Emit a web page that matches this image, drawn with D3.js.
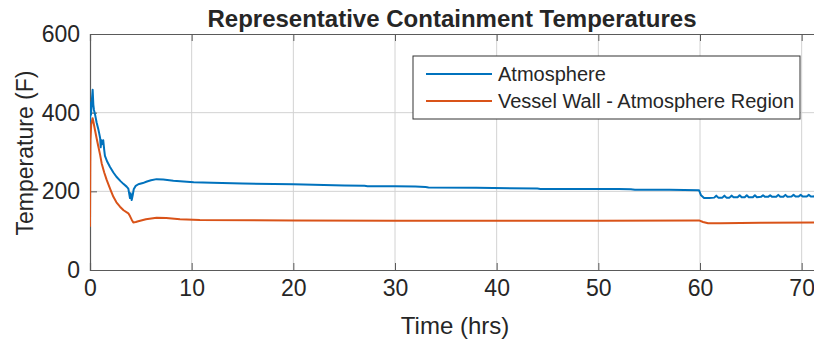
<!DOCTYPE html>
<html>
<head>
<meta charset="utf-8">
<script src="https://cdn.jsdelivr.net/npm/d3@7"></script>
<style>
  body { margin: 0; background: #fff; }
  text { font-family: "Liberation Sans", Arial, sans-serif; fill: #262626; }
</style>
</head>
<body>
<script>
// data
var xTicks = [0, 10, 20, 30, 40, 50, 60, 70];
var yTicks = [0, 200, 400, 600];
var seriesNames = ["Atmosphere", "Vessel Wall - Atmosphere Region"];

var atmTime = [0, 0.03, 0.1, 0.18, 0.26, 0.33, 0.39, 0.5, 0.65, 0.8, 0.9, 1.0, 1.05, 1.12, 1.2, 1.3, 1.4, 1.47, 1.7, 1.97, 2.3, 2.6, 3.0, 3.28, 3.6, 3.77, 3.85, 3.93, 4.0, 4.1, 4.2, 4.3, 4.5, 4.75, 5.2, 5.6, 6.0, 6.55, 7.2, 8.2, 9.2, 10.2, 12, 15, 20, 25, 27, 27.3, 30, 32, 33, 33.3, 38, 44, 44.3, 48, 52, 53.2, 53.6, 57, 59.9,
  60.1, 60.4, 60.9, 61.4, 61.6, 61.8, 62.2, 62.4, 62.6, 62.9, 63.1, 63.3, 63.7, 63.9, 64.1, 64.4, 64.6, 64.8, 65.2, 65.4, 65.6, 66.0, 66.2, 66.4, 66.7, 66.9, 67.1, 67.5, 67.7, 67.9, 68.2, 68.4, 68.6, 69.0, 69.2, 69.4, 69.7, 69.9, 70.1, 70.5, 70.7, 70.9, 71.2, 71.4, 71.6, 72];
var atmTemp = [265, 425, 395, 430, 458, 420, 407, 395, 375, 360, 348, 335, 312, 330, 320, 330, 305, 290, 275, 262, 248, 237, 226, 219, 212, 207, 195, 183, 195, 178, 190, 205, 214, 218, 221, 225, 228, 231, 230, 227, 225, 223, 222, 220, 218, 215, 214, 213, 213, 212, 211, 210, 209, 207, 206, 206, 206, 205, 204, 204, 203,
  190, 183, 183, 184, 189, 184, 184, 189, 184, 184, 189, 185, 185, 190, 185, 185, 190, 185, 185, 190, 185, 186, 190, 186, 186, 190, 186, 186, 191, 186, 186, 191, 186, 187, 191, 187, 187, 191, 187, 187, 191, 187, 187, 191, 187, 188];

var wallTime = [0, 0.04, 0.12, 0.26, 0.35, 0.49, 0.65, 0.82, 1.0, 1.15, 1.4, 1.64, 2.0, 2.3, 2.6, 2.95, 3.3, 3.77, 3.93, 4.1, 4.26, 4.5, 4.75, 5.5, 6.55, 7.5, 8.85, 10.8, 20, 30, 40, 50, 59.9, 60.3, 60.8, 62, 66, 72];
var wallTemp = [110, 330, 370, 386, 375, 356, 335, 314, 292, 271, 248, 229, 205, 186, 172, 161, 152, 144, 137, 128, 121, 122, 124, 129, 133, 132, 129, 127, 126, 125.5, 125, 125.5, 126, 122, 119, 119, 120, 121];

var colors = ["#0072BD", "#D95319"];

var W = 814, H = 343;
var plotL = 90, plotT = 34, plotH = 236, plotW = 732;
var svg = d3.select("body").append("svg").attr("width", W).attr("height", H);

var x = d3.scaleLinear().domain([0, 72]).range([plotL, plotL + plotW]);
var y = d3.scaleLinear().domain([0, 600]).range([plotT + plotH, plotT]);

svg.append("defs").append("clipPath").attr("id", "clip")
  .append("rect").attr("x", plotL).attr("y", plotT).attr("width", plotW).attr("height", plotH);

// grid
svg.append("g").selectAll("line").data(xTicks.slice(1)).join("line")
  .attr("x1", d => x(d)).attr("x2", d => x(d)).attr("y1", plotT).attr("y2", plotT + plotH)
  .attr("stroke", "#d2d2d2").attr("stroke-width", 1);
svg.append("g").selectAll("line").data(yTicks.slice(1, -1)).join("line")
  .attr("x1", plotL).attr("x2", W).attr("y1", d => y(d)).attr("y2", d => y(d))
  .attr("stroke", "#d2d2d2").attr("stroke-width", 1);

// axes (ticks inside)
var xAxis = svg.append("g").attr("transform", "translate(0," + (plotT + plotH) + ")")
  .call(d3.axisBottom(x).tickValues(xTicks).tickSize(-7).tickPadding(10).tickFormat(d3.format("d")));
var xTop = svg.append("g").attr("transform", "translate(0," + plotT + ")")
  .call(d3.axisTop(x).tickValues(xTicks).tickSize(-7).tickFormat(""));
var yAxis = svg.append("g").attr("transform", "translate(" + plotL + ",0)")
  .call(d3.axisLeft(y).tickValues(yTicks).tickSize(-7).tickPadding(10).tickFormat(d3.format("d")));
[xAxis, xTop, yAxis].forEach(function(g) {
  g.select(".domain").attr("stroke", "#5a5a5a").attr("stroke-width", 1.2);
  g.selectAll(".tick line").attr("stroke", "#5a5a5a");
  g.selectAll(".tick text").attr("font-size", 23).attr("fill", "#262626")
    .attr("font-family", "Liberation Sans, Arial, sans-serif");
});

// lines
var line = d3.line().x(d => x(d[0])).y(d => y(d[1]));
var series = [d3.zip(atmTime, atmTemp), d3.zip(wallTime, wallTemp)];
svg.append("g").attr("clip-path", "url(#clip)")
  .selectAll("path").data(series).join("path")
  .attr("d", line).attr("fill", "none")
  .attr("stroke", (d, i) => colors[i]).attr("stroke-width", 2)
  .attr("stroke-linejoin", "round");

// title and labels
svg.append("text").attr("x", 452).attr("y", 27).attr("text-anchor", "middle")
  .attr("font-size", 24).attr("font-weight", "bold").attr("fill", "#000")
  .text("Representative Containment Temperatures");
svg.append("text").attr("x", 455).attr("y", 334).attr("text-anchor", "middle")
  .attr("font-size", 24).text("Time (hrs)");
svg.append("text").attr("transform", "translate(33,153) rotate(-90)").attr("text-anchor", "middle")
  .attr("font-size", 23).text("Temperature (F)");

// legend
var lg = svg.append("g");
lg.append("rect").attr("x", 413).attr("y", 56).attr("width", 387).attr("height", 63)
  .attr("fill", "#fff").attr("stroke", "#333").attr("stroke-width", 1);
lg.selectAll("line").data(seriesNames).join("line")
  .attr("x1", 426).attr("x2", 492).attr("y1", (d, i) => 74 + i * 27).attr("y2", (d, i) => 74 + i * 27)
  .attr("stroke", (d, i) => colors[i]).attr("stroke-width", 2);
lg.selectAll("text").data(seriesNames).join("text")
  .attr("x", 498).attr("y", (d, i) => 81 + i * 27).attr("font-size", 20)
  .text(d => d);
</script>
</body>
</html>
